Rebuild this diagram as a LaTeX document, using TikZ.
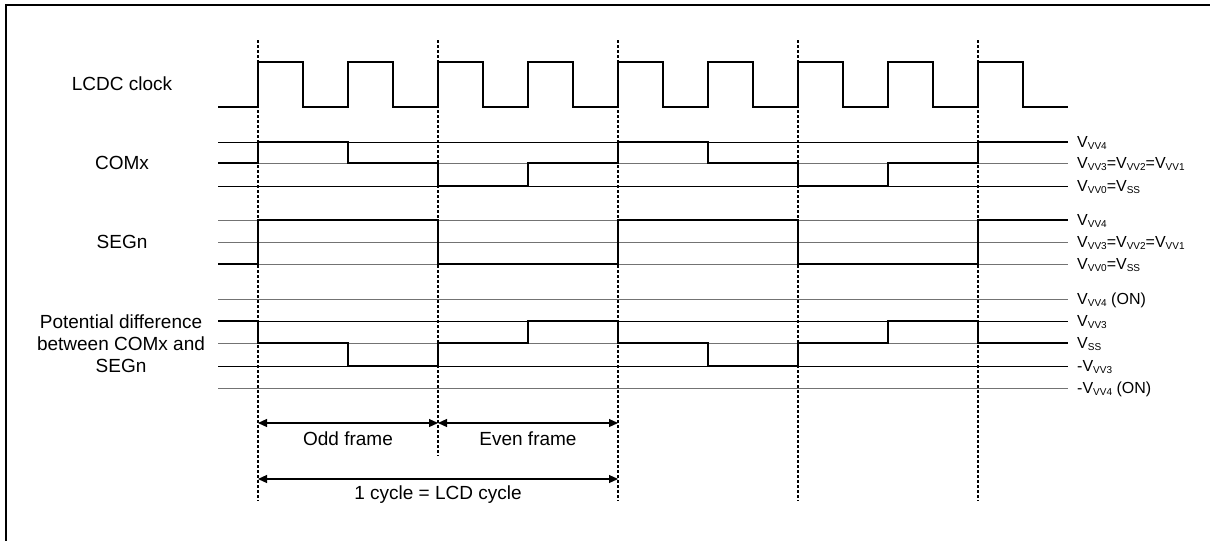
\documentclass[tikz,border=0pt]{standalone}
\usepackage{fontspec}
\setmainfont{Liberation Sans}
\usetikzlibrary{arrows.meta}

\newcommand\vsub[1]{\raisebox{-0.3ex}{\fontsize{10}{10}\selectfont #1}}

\begin{document}
\begin{tikzpicture}[x=1pt,y=-1pt,
  level/.style={line width=0.9pt},
  levelgray/.style={line width=0.9pt,black!55},
  wave/.style={line width=2.4pt,line join=miter},
  divider/.style={line width=1.2pt,dash pattern=on 3pt off 2pt},
  span/.style={line width=1.2pt,{Triangle[length=9pt,width=8pt]}-{Triangle[length=9pt,width=8pt]}},
  sig/.style={font=\fontsize{19}{22}\selectfont,align=center,inner sep=0pt},
  volt/.style={font=\fontsize{16}{18}\selectfont,anchor=base west,inner sep=0pt}]

\useasboundingbox (0,0) rectangle (1210,541);
\draw[line width=2.5pt] (1210,5) -- (6,5) -- (6,541);

\def\comx{(218,163) -- (258,163) -- (258,142) -- (348,142) -- (348,163) -- (438,163) -- (438,186) -- (528,186) -- (528,163) -- (618,163) -- (618,142) -- (708,142) -- (708,163) -- (798,163) -- (798,186) -- (888,186) -- (888,163) -- (978,163) -- (978,142) -- (1068,142)}
\def\segn{(218,264) -- (258,264) -- (258,220) -- (438,220) -- (438,264) -- (618,264) -- (618,220) -- (798,220) -- (798,264) -- (978,264) -- (978,220) -- (1068,220)}
\def\potdiff{(218,321) -- (258,321) -- (258,343) -- (348,343) -- (348,366) -- (438,366) -- (438,343) -- (528,343) -- (528,321) -- (618,321) -- (618,343) -- (708,343) -- (708,366) -- (798,366) -- (798,343) -- (888,343) -- (888,321) -- (978,321) -- (978,343) -- (1068,343)}

\foreach \y in {142,186,321,366}
  \draw[level] (218,\y) -- (1068,\y);
\foreach \y in {163,220,242,264,299,343,388}
  \draw[levelgray] (218,\y) -- (1068,\y);

\draw[wave] (218,107) foreach \k in {0,...,8} { -- (258+90*\k,107) -- (258+90*\k,62) -- (303+90*\k,62) -- (303+90*\k,107) } -- (1068,107);
\draw[wave] \comx;
\draw[wave] \segn;
\draw[wave] \potdiff;

\coordinate (t0) at (258,40);
\coordinate (t1) at (438,40);
\coordinate (t2) at (618,40);
\coordinate (t3) at (798,40);
\coordinate (t4) at (978,40);
\coordinate (b0) at (258,501);
\coordinate (b1) at (438,456);
\coordinate (b2) at (618,501);
\coordinate (b3) at (798,501);
\coordinate (b4) at (978,501);
\foreach \n in {0,...,4}
  \draw[divider] (t\n) -- (b\n);

\coordinate (odd0) at (258,423);
\coordinate (odd1) at (438,423);
\coordinate (even1) at (618,423);
\coordinate (cyc0) at (258,479);
\coordinate (cyc1) at (618,479);
\draw[span] (odd0) -- node[sig,midway,yshift=-16pt] (oddlbl) {Odd frame} (odd1);
\draw[span] (odd1) -- node[sig,midway,yshift=-16pt] (evenlbl) {Even frame} (even1);
\draw[span] (cyc0) -- node[sig,midway,yshift=-16pt] (cyclbl) {1 cycle = LCD cycle} (cyc1);

\node[sig] (clk) at (122,84) {LCDC clock};
\node[sig] (com) at (122,163) {COMx};
\node[sig] (seg) at (122,242) {SEGn};
\node[sig] (pot) at (121,344) {Potential difference\\between COMx and\\SEGn};

\node[volt] (c4) at (1077,147) {V\vsub{VV4}};
\node[volt] (c3) at (1077,168) {V\vsub{VV3}=V\vsub{VV2}=V\vsub{VV1}};
\node[volt] (c0) at (1077,191) {V\vsub{VV0}=V\vsub{SS}};
\node[volt] (s4) at (1077,225) {V\vsub{VV4}};
\node[volt] (s3) at (1077,247) {V\vsub{VV3}=V\vsub{VV2}=V\vsub{VV1}};
\node[volt] (s0) at (1077,269) {V\vsub{VV0}=V\vsub{SS}};
\node[volt] (p4) at (1077,304) {V\vsub{VV4} (ON)};
\node[volt] (p3) at (1077,326) {V\vsub{VV3}};
\node[volt] (p0) at (1077,348) {V\vsub{SS}};
\node[volt] (n3) at (1077,371) {-V\vsub{VV3}};
\node[volt] (n4) at (1077,393) {-V\vsub{VV4} (ON)};

\end{tikzpicture}
\end{document}
